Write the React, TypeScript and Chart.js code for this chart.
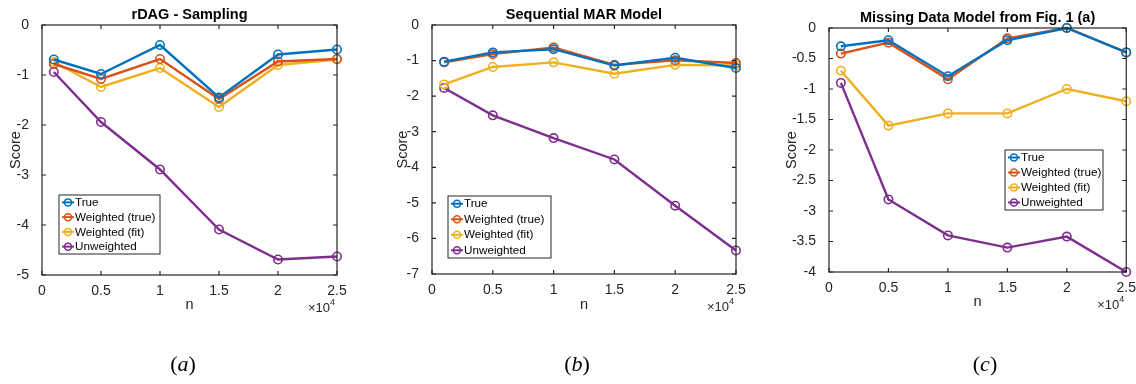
import React, { useEffect, useRef } from "react";
import { Chart, registerables } from "chart.js";

Chart.register(...registerables);

// ---------- data ----------
const nValues = [1000, 5000, 10000, 15000, 20000, 25000];
const seriesLabels = ["True", "Weighted (true)", "Weighted (fit)", "Unweighted"];
const xTickValues = [0, 5000, 10000, 15000, 20000, 25000];

const rdagTrue = [-0.69, -0.98, -0.4, -1.45, -0.59, -0.49];
const rdagWeightedTrue = [-0.78, -1.08, -0.68, -1.48, -0.73, -0.68];
const rdagWeightedFit = [-0.74, -1.24, -0.86, -1.64, -0.8, -0.69];
const rdagUnweighted = [-0.94, -1.94, -2.89, -4.09, -4.69, -4.63];

const marTrue = [-1.03, -0.77, -0.68, -1.14, -0.92, -1.21];
const marWeightedTrue = [-1.05, -0.82, -0.63, -1.12, -0.99, -1.07];
const marWeightedFit = [-1.67, -1.18, -1.05, -1.37, -1.12, -1.14];
const marUnweighted = [-1.77, -2.54, -3.18, -3.78, -5.08, -6.34];

const missTrue = [-0.3, -0.2, -0.79, -0.2, 0, -0.4];
const missWeightedTrue = [-0.42, -0.24, -0.84, -0.17, 0, -0.4];
const missWeightedFit = [-0.7, -1.6, -1.4, -1.4, -1.0, -1.2];
const missUnweighted = [-0.9, -2.81, -3.4, -3.6, -3.42, -4.0];

const panelTitles = ["rDAG - Sampling", "Sequential MAR Model", "Missing Data Model from Fig. 1 (a)"];
const captionLetters = ["a", "b", "c"];
const yMins = [-5, -7, -4];
const yMax = 0;
const yStepSizes = [1, 1, 0.5];

const panelSeries = [
  [rdagTrue, rdagWeightedTrue, rdagWeightedFit, rdagUnweighted],
  [marTrue, marWeightedTrue, marWeightedFit, marUnweighted],
  [missTrue, missWeightedTrue, missWeightedFit, missUnweighted],
];

// ---------- layout / style ----------
const W = 1136;
const H = 384;
const seriesColors = ["#0072BD", "#D95319", "#EDB120", "#7E2F8E"];
const AXIS = "#262626";
const FONT = "'Liberation Sans', Arial, Helvetica, sans-serif";

const panelBoxes = [
  { l: 42, t: 25, r: 337, b: 275, yTitleGap: 26, nY: 305, legend: { x: 59, y: 195, w: 101, h: 59 } },
  { l: 432, t: 25, r: 736, b: 274, yTitleGap: 29, nY: 305, legend: { x: 448, y: 196, w: 103, h: 62 } },
  { l: 829, t: 28, r: 1127, b: 272, yTitleGap: 37, nY: 302, legend: { x: 1005, y: 150, w: 98, h: 60 } },
];
const captionPos = [
  { x: 183, y: 364 },
  { x: 577, y: 364 },
  { x: 985, y: 364 },
];

const Y_SCALE_W = 50;
const X_SCALE_H = 40;
const TITLE_FS = 14.5;

const decorPlugin = {
  id: "decor",
  afterDraw(chart: any, _args: any, opts: any) {
    const { ctx } = chart;
    const { left, top, right, bottom } = chart.chartArea;
    const xs = chart.scales.x;
    const ys = chart.scales.y;
    ctx.save();
    // box and inward ticks
    ctx.strokeStyle = AXIS;
    ctx.lineWidth = 1.2;
    ctx.beginPath();
    xs.ticks.forEach((t: any) => {
      const x = xs.getPixelForValue(t.value);
      ctx.moveTo(x, bottom);
      ctx.lineTo(x, bottom - 4);
      ctx.moveTo(x, top);
      ctx.lineTo(x, top + 4);
    });
    ys.ticks.forEach((t: any) => {
      const y = ys.getPixelForValue(t.value);
      ctx.moveTo(left, y);
      ctx.lineTo(left + 4, y);
      ctx.moveTo(right, y);
      ctx.lineTo(right - 4, y);
    });
    ctx.stroke();
    ctx.strokeRect(left, top, right - left, bottom - top);

    // title
    ctx.fillStyle = "#000";
    ctx.font = `bold ${TITLE_FS}px ${FONT}`;
    ctx.textAlign = "center";
    ctx.textBaseline = "middle";
    ctx.fillText(opts.title, (left + right) / 2, top - 10);

    // x10^4 exponent label
    ctx.fillStyle = AXIS;
    ctx.textAlign = "right";
    ctx.font = `9px ${FONT}`;
    const supW = ctx.measureText("4").width;
    ctx.fillText("4", right - 2, bottom + 28);
    ctx.font = `13px ${FONT}`;
    ctx.fillText("\u00d710", right - 2 - supW, bottom + 33);

    // legend
    const lg = opts.legend;
    ctx.fillStyle = "#fff";
    ctx.fillRect(lg.x, lg.y, lg.w, lg.h);
    ctx.strokeStyle = AXIS;
    ctx.lineWidth = 1;
    ctx.strokeRect(lg.x, lg.y, lg.w, lg.h);
    chart.data.datasets.forEach((ds: any, i: number) => {
      const cy = lg.y + (lg.h * (i + 0.5)) / 4;
      ctx.strokeStyle = ds.borderColor;
      ctx.lineWidth = 2;
      ctx.beginPath();
      ctx.moveTo(lg.x + 3, cy);
      ctx.lineTo(lg.x + 15, cy);
      ctx.stroke();
      ctx.lineWidth = 1.5;
      ctx.beginPath();
      ctx.arc(lg.x + 9, cy, 3.5, 0, Math.PI * 2);
      ctx.stroke();
      ctx.fillStyle = "#000";
      ctx.font = `11.7px ${FONT}`;
      ctx.textAlign = "left";
      ctx.textBaseline = "middle";
      ctx.fillText(ds.label, lg.x + 16, cy + 0.5);
    });
    ctx.restore();
  },
};

function Panel({ index }: { index: number }) {
  const ref = useRef<HTMLCanvasElement | null>(null);
  useEffect(() => {
    const canvas = ref.current;
    if (!canvas) return;
    const box = panelBoxes[index];
    const series = panelSeries[index];
    const datasets = series.map((vals, i) => ({
      label: seriesLabels[i],
      data: nValues.map((n, k) => ({ x: n, y: vals[k] })),
      borderColor: seriesColors[i],
      backgroundColor: "rgba(0,0,0,0)",
      borderWidth: 2.4,
      pointRadius: 4.2,
      pointBorderWidth: 1.6,
      pointBackgroundColor: "rgba(0,0,0,0)",
      pointBorderColor: seriesColors[i],
      tension: 0,
      clip: false as any,
    }));
    const titleLH = 14.5 * 1.2;
    const chart = new Chart(canvas, {
      type: "line",
      data: { datasets },
      plugins: [decorPlugin],
      options: {
        animation: false,
        responsive: false,
        events: [],
        layout: {
          padding: {
            left: box.l - Y_SCALE_W,
            top: box.t,
            right: W - box.r,
            bottom: H - box.b - X_SCALE_H,
          },
        },
        plugins: {
          legend: { display: false },
          title: { display: false },
          tooltip: { enabled: false },
          decor: { title: panelTitles[index], legend: box.legend },
        } as any,
        scales: {
          x: {
            type: "linear",
            min: 0,
            max: 25000,
            afterBuildTicks: (s: any) => {
              s.ticks = xTickValues.map((v) => ({ value: v }));
            },
            ticks: {
              callback: (v: any) => String(Number(v) / 10000),
              color: AXIS,
              font: { family: FONT, size: 14 },
              padding: 0,
              maxRotation: 0,
              autoSkip: false,
            },
            grid: { display: false },
            border: { display: false },
            title: {
              display: true,
              text: "n",
              color: AXIS,
              font: { family: FONT, size: 14.5 },
              padding: { top: 0, bottom: box.b + X_SCALE_H - box.nY - titleLH / 2 },
            },
            afterFit: (s: any) => {
              s.height = X_SCALE_H;
            },
          },
          y: {
            type: "linear",
            min: yMins[index],
            max: yMax,
            ticks: {
              stepSize: yStepSizes[index],
              callback: (v: any) => String(Math.round(Number(v) * 10) / 10),
              color: AXIS,
              font: { family: FONT, size: 14 },
              padding: 5,
              autoSkip: false,
            },
            grid: { display: false },
            border: { display: false },
            title: {
              display: true,
              text: "Score",
              color: AXIS,
              font: { family: FONT, size: 14.5 },
              padding: { top: Y_SCALE_W - box.yTitleGap - titleLH / 2, bottom: 0 },
            },
            afterFit: (s: any) => {
              s.width = Y_SCALE_W;
            },
          },
        },
      } as any,
    });
    return () => chart.destroy();
  }, [index]);
  return (
    <canvas
      ref={ref}
      width={W}
      height={H}
      style={{ position: "absolute", left: 0, top: 0, width: W, height: H, display: "block" }}
    />
  );
}

export default function App() {
  return (
    <div
      style={{
        position: "absolute",
        left: 0,
        top: 0,
        width: W,
        height: H,
        background: "#fff",
        overflow: "hidden",
      }}
    >
      {[0, 1, 2].map((i) => (
        <Panel key={i} index={i} />
      ))}
      {captionLetters.map((c, i) => (
        <span
          key={c}
          style={{
            position: "absolute",
            left: captionPos[i].x,
            top: captionPos[i].y,
            transform: "translate(-50%, -50%)",
            fontFamily: "'Liberation Serif', 'DejaVu Serif', serif",
            fontSize: 22,
            color: "#000",
            whiteSpace: "nowrap",
            lineHeight: 1,
          }}
        >
          (<i>{c}</i>)
        </span>
      ))}
    </div>
  );
}
